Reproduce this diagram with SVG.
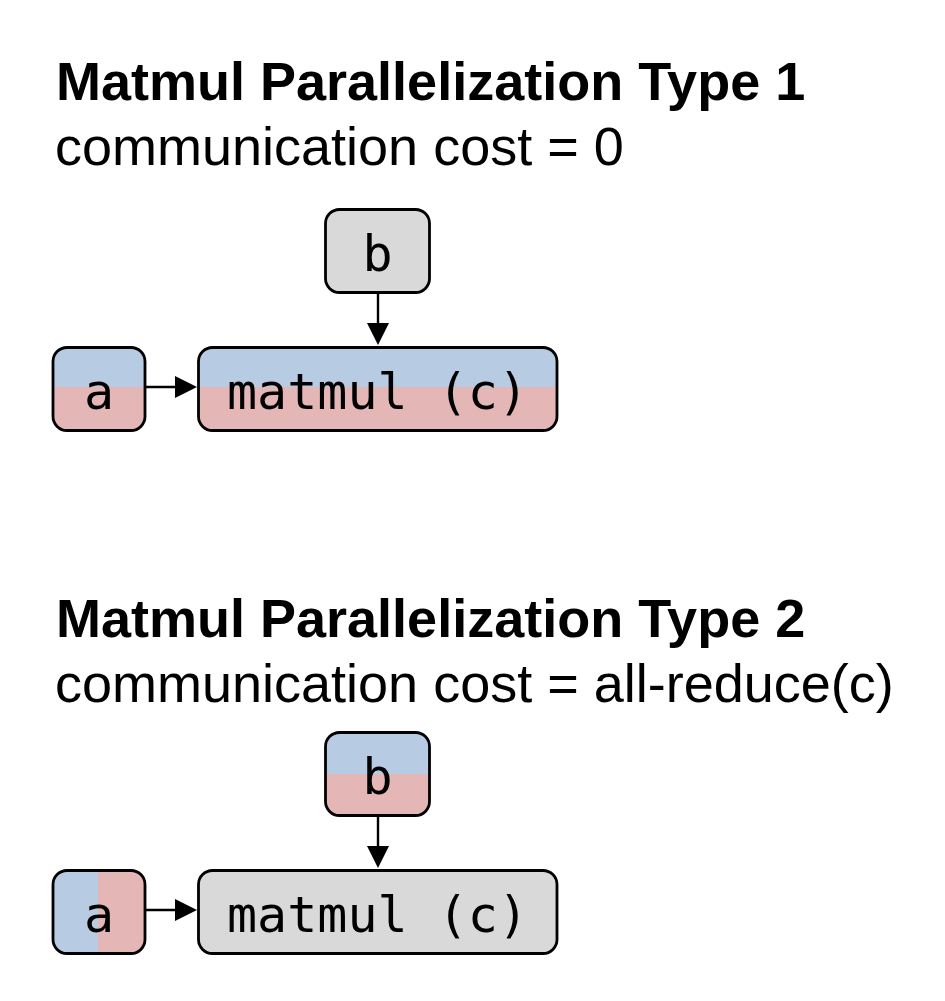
<svg xmlns="http://www.w3.org/2000/svg" width="945" height="1001" viewBox="0 0 945 1001">
<style>
.title{font-family:"Liberation Sans",Arial,sans-serif;font-weight:bold;font-size:54px;fill:#000}
.sub{font-family:"Liberation Sans",Arial,sans-serif;font-size:54px;fill:#000}
.lbl{font-family:"DejaVu Sans Mono",monospace;font-size:50px;fill:#000;text-anchor:middle}
.box{fill:none;stroke:#000;stroke-width:2.8}
.gray{fill:#d9d9d9}
.blue{fill:#b7cbe2}
.red{fill:#e5b6b6}
.edge{stroke:#000;stroke-width:2.4;fill:none;marker-end:url(#arr)}
</style>
<defs>
<marker id="arr" viewBox="0 0 22 22" refX="12" refY="11" markerWidth="22" markerHeight="22" markerUnits="userSpaceOnUse" orient="auto">
<path d="M0,0 L22,11 L0,22 z" fill="#000"/>
</marker>
<clipPath id="ca1"><rect x="53" y="347.5" width="92" height="83" rx="14"/></clipPath>
<clipPath id="cm1"><rect x="198.5" y="347.5" width="358.5" height="83" rx="14"/></clipPath>
<clipPath id="ca2"><rect x="53" y="870.5" width="92" height="83" rx="14"/></clipPath>
<clipPath id="cb2"><rect x="325.5" y="732.5" width="104" height="83" rx="14"/></clipPath>
</defs>
<rect width="945" height="1001" fill="#fff"/>

<text class="title" x="56" y="100">Matmul Parallelization Type 1</text>
<text class="sub" x="55" y="165">communication cost = 0</text>
<text class="title" x="56" y="637">Matmul Parallelization Type 2</text>
<text class="sub" x="55" y="702">communication cost = all-reduce(c)</text>

<g id="edges">
<line class="edge" x1="378" y1="293" x2="378" y2="335"/>
<line class="edge" x1="145" y1="387" x2="187" y2="387"/>
<line class="edge" x1="378" y1="816" x2="378" y2="858"/>
<line class="edge" x1="145" y1="910" x2="187" y2="910"/>
</g>

<g id="t1_b">
<rect class="gray" x="325.5" y="209.5" width="104" height="83" rx="14"/>
<rect class="box" x="325.5" y="209.5" width="104" height="83" rx="14"/>
<text class="lbl" x="377.5" y="271">b</text>
</g>
<g id="t1_a">
<g clip-path="url(#ca1)">
<rect class="blue" x="50" y="345" width="100" height="42"/>
<rect class="red" x="50" y="387" width="100" height="46"/>
</g>
<rect class="box" x="53" y="347.5" width="92" height="83" rx="14"/>
<text class="lbl" x="99" y="409">a</text>
</g>
<g id="t1_matmul">
<g clip-path="url(#cm1)">
<rect class="blue" x="195" y="345" width="365" height="42"/>
<rect class="red" x="195" y="387" width="365" height="46"/>
</g>
<rect class="box" x="198.5" y="347.5" width="358.5" height="83" rx="14"/>
<text class="lbl" x="377.5" y="409">matmul (c)</text>
</g>

<g id="t2_b">
<g clip-path="url(#cb2)">
<rect class="blue" x="320" y="730" width="115" height="44"/>
<rect class="red" x="320" y="774" width="115" height="45"/>
</g>
<rect class="box" x="325.5" y="732.5" width="104" height="83" rx="14"/>
<text class="lbl" x="377.5" y="794">b</text>
</g>
<g id="t2_a">
<g clip-path="url(#ca2)">
<rect class="blue" x="50" y="868" width="48" height="90"/>
<rect class="red" x="98" y="868" width="52" height="90"/>
</g>
<rect class="box" x="53" y="870.5" width="92" height="83" rx="14"/>
<text class="lbl" x="99" y="932">a</text>
</g>
<g id="t2_matmul">
<rect class="gray" x="198.5" y="870.5" width="358.5" height="83" rx="14"/>
<rect class="box" x="198.5" y="870.5" width="358.5" height="83" rx="14"/>
<text class="lbl" x="377.5" y="932">matmul (c)</text>
</g>
</svg>
